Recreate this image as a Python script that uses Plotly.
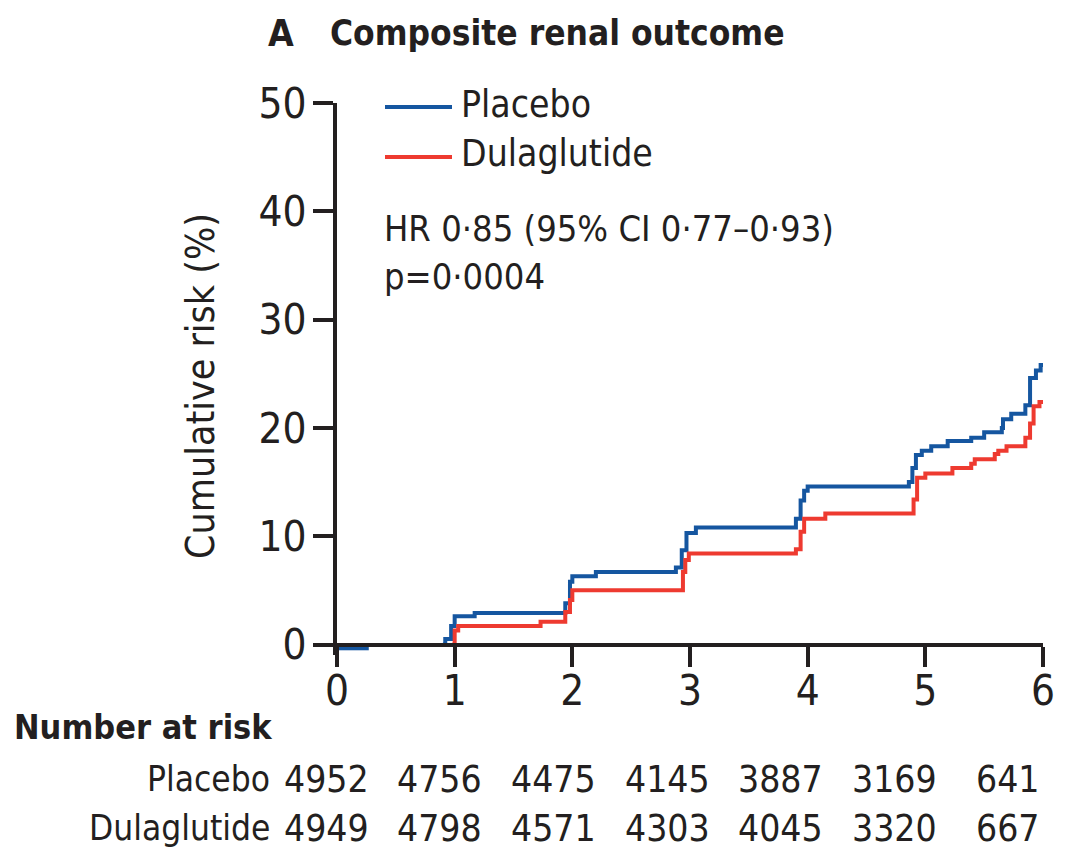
import plotly.graph_objects as go

# ---- data ----
years = [0, 1, 2, 3, 4, 5, 6]
placebo_t = [0, 0.27, None, 0.9, 0.92, 0.97, 1.0, 1.17, 1.94, 1.98, 2.0, 2.2, 2.88, 2.93, 2.97, 3.05,
             3.9, 3.94, 3.97, 4.0, 4.86, 4.89, 4.92, 4.97, 5.05, 5.19, 5.39, 5.5, 5.65, 5.66,
             5.73, 5.85, 5.89, 5.94, 5.98, 6.0]
placebo_risk = [-0.35, -0.35, None, 0, 0.5, 1.7, 2.6, 2.9, 3.8, 5.8, 6.3, 6.7, 7.1, 8.7, 10.3, 10.8,
                11.6, 13.3, 14.2, 14.6, 15.0, 16.3, 17.5, 17.9, 18.3, 18.8, 19.1, 19.6, 20.0, 20.8,
                21.3, 22.1, 24.6, 25.3, 25.8, 25.8]
dula_t = [0.98, 1.0, 1.03, 1.73, 1.94, 1.98, 2.0, 2.94, 2.96, 2.99, 3.9, 3.94, 3.97, 4.15,
          4.9, 4.93, 5.0, 5.23, 5.39, 5.42, 5.59, 5.62, 5.69, 5.85, 5.89, 5.92, 5.97, 6.0]
dula_risk = [0, 1.3, 1.7, 2.1, 3.0, 4.1, 5.0, 6.7, 7.8, 8.4, 8.8, 10.4, 11.6, 12.1,
             13.4, 15.4, 15.8, 16.3, 16.7, 17.1, 17.6, 17.9, 18.3, 19.1, 20.4, 22.0, 22.4, 22.4]
y_ticks = [0, 10, 20, 30, 40, 50]
risk_groups = ["Placebo", "Dulaglutide"]
at_risk_placebo = [4952, 4756, 4475, 4145, 3887, 3169, 641]
at_risk_dula = [4949, 4798, 4571, 4303, 4045, 3320, 667]

BLUE = "#1556a0"
RED = "#ee3a30"
INK = "#231f20"
FONT = "DejaVu Sans Condensed, Liberation Sans Narrow, sans-serif"

W, H = 1080, 850
L, R, T, B = 337, 37, 103, 195
PW, PH = W - L - R, H - T - B
Y0_PX = 644.5                          # pixel row of risk = 0
PX_PER_UNIT = (Y0_PX - T) / 50.0
YMIN = -(H - B - Y0_PX) / PX_PER_UNIT  # small space below zero so the axis sits at 0


def px_x(px):
    return (px - L) / PW


def px_y(py):
    return (H - B - py) / PH


fig = go.Figure()
fig.add_trace(go.Scatter(x=placebo_t, y=placebo_risk, mode="lines", line_shape="hv",
                         connectgaps=False,
                         line=dict(color=BLUE, width=4), name="Placebo", showlegend=False))
fig.add_trace(go.Scatter(x=dula_t, y=dula_risk, mode="lines", line_shape="hv",
                         line=dict(color=RED, width=4), name="Dulaglutide", showlegend=False))

axis_common = dict(showline=True, linewidth=4, linecolor=INK, ticks="outside", ticklen=20,
                   tickwidth=4, tickcolor=INK, showgrid=False, zeroline=False,
                   tickfont=dict(family=FONT, size=42, color=INK), layer="above traces")
fig.update_xaxes(range=[0, 6], tickvals=years, ticktext=[str(v) for v in years],
                 anchor="free", position=px_y(Y0_PX), **axis_common)
fig.update_yaxes(range=[YMIN, 50], tickvals=y_ticks, ticktext=[str(v) for v in y_ticks],
                 **axis_common)
try:
    fig.update_xaxes(ticklabelstandoff=-12)
    fig.update_yaxes(ticklabelstandoff=-2)
except Exception:
    pass

ann = []
# title
ann.append(dict(text="<b>A</b>", x=px_x(266), y=px_y(33), xref="paper", yref="paper",
                xanchor="left", yanchor="middle", showarrow=False,
                font=dict(family=FONT, size=37, color=INK)))
ann.append(dict(text="<b>Composite renal outcome</b>", x=px_x(328), y=px_y(33), xref="paper",
                yref="paper", xanchor="left", yanchor="middle", showarrow=False,
                font=dict(family=FONT, size=35, color=INK)))
# y-axis title
ann.append(dict(text="Cumulative risk (%)", x=px_x(201), y=px_y(386), xref="paper", yref="paper",
                xanchor="center", yanchor="middle", textangle=-90, showarrow=False,
                font=dict(family=FONT, size=39, color=INK)))
# legend
for name, color, ly in [("Placebo", BLUE, 104), ("Dulaglutide", RED, 154)]:
    fig.add_shape(type="line", xref="paper", yref="paper", x0=px_x(385), x1=px_x(452),
                  y0=px_y(ly + 3), y1=px_y(ly + 3), line=dict(color=color, width=4))
    ann.append(dict(text=name, x=px_x(459), y=px_y(ly), xref="paper", yref="paper",
                    xanchor="left", yanchor="middle", showarrow=False,
                    font=dict(family=FONT, size=37, color=INK)))
# HR text
ann.append(dict(text="HR 0·85 (95% CI 0·77–0·93)", x=px_x(382), y=px_y(228), xref="paper",
                yref="paper", xanchor="left", yanchor="middle", showarrow=False,
                font=dict(family=FONT, size=36, color=INK)))
ann.append(dict(text="p=0·0004", x=px_x(382), y=px_y(276), xref="paper",
                yref="paper", xanchor="left", yanchor="middle", showarrow=False,
                font=dict(family=FONT, size=36, color=INK)))
# number at risk
ann.append(dict(text="<b>Number at risk</b>", x=px_x(12), y=px_y(727), xref="paper", yref="paper",
                xanchor="left", yanchor="middle", showarrow=False,
                font=dict(family=FONT, size=34, color=INK)))
for grp, vals, ry in [(risk_groups[0], at_risk_placebo, 779), (risk_groups[1], at_risk_dula, 828)]:
    ann.append(dict(text=grp, x=px_x(272), y=px_y(ry), xref="paper", yref="paper",
                    xanchor="right", yanchor="middle", showarrow=False,
                    font=dict(family=FONT, size=35, color=INK)))
    for i, (yr, v) in enumerate(zip(years, vals)):
        ann.append(dict(text=str(v), x=yr, y=px_y(ry), xref="x", yref="paper",
                        xanchor="center", yanchor="middle", xshift=-11 - 4 * i, showarrow=False,
                        font=dict(family=FONT, size=37, color=INK)))

fig.update_layout(width=W, height=H, margin=dict(l=L, r=R, t=T, b=B),
                  plot_bgcolor="white", paper_bgcolor="white", annotations=ann)
fig.write_html("out.html")
